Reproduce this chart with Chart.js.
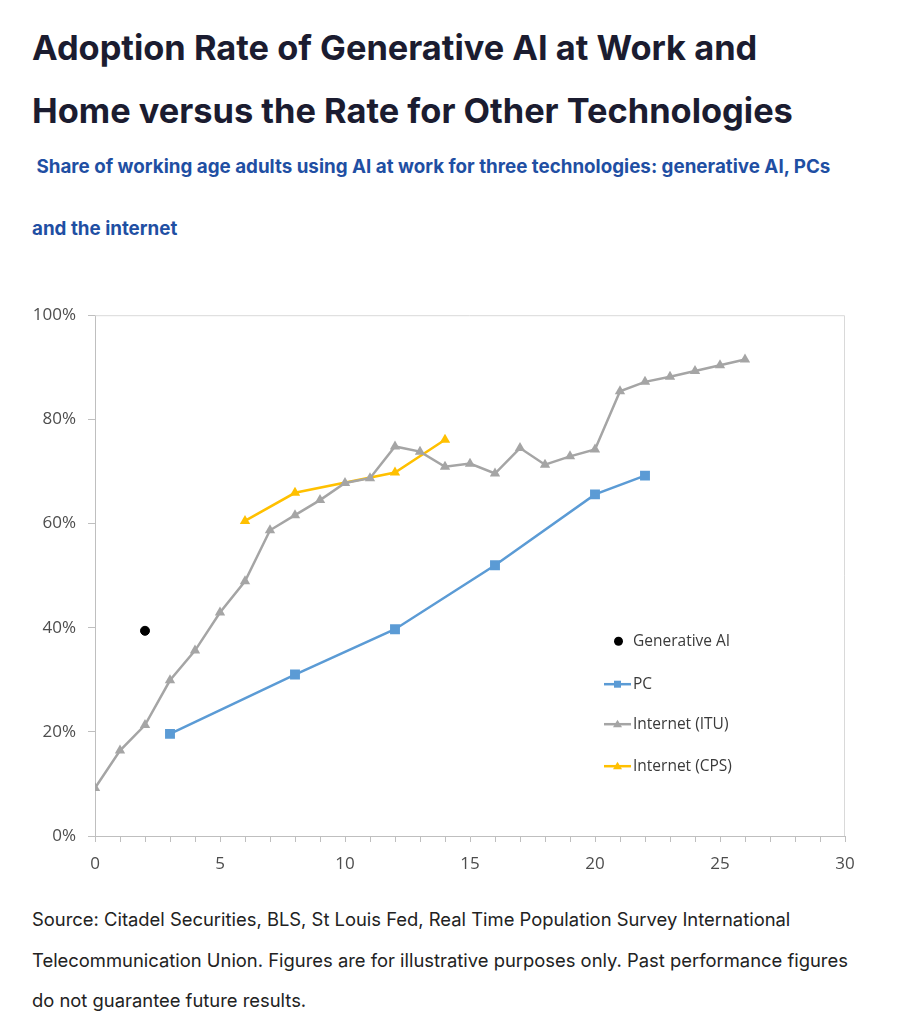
<!DOCTYPE html>
<html>
<head>
<meta charset="utf-8">
<script src="https://cdn.jsdelivr.net/npm/chart.js@4.4.1/dist/chart.umd.min.js"></script>
<style>
  html, body { margin: 0; padding: 0; background: #fff; }
  body { width: 898px; height: 1026px; position: relative; overflow: hidden; font-family: Inter, "Noto Sans", sans-serif; }
  #title { position: absolute; left: 32px; top: 16px; margin: 0; font-size: 34.4px; font-weight: 700; line-height: 63px; color: #1b1c30; white-space: nowrap; }
  #subtitle { position: absolute; left: 32px; top: 136px; margin: 0; font-size: 18.8px; font-weight: 700; line-height: 62px; color: #1f4fa3; white-space: pre; }
  #source { position: absolute; left: 32px; top: 899px; margin: 0; font-size: 18.4px; font-weight: 400; line-height: 40.5px; color: #222; width: 835px; }
  #wrap { position: absolute; left: 0; top: 293px; width: 870px; height: 597px; }
</style>
</head>
<body>
<h1 id="title">Adoption Rate of Generative AI at Work and<br>Home versus the Rate for Other Technologies</h1>
<p id="subtitle"> Share of working age adults using AI at work for three technologies: generative AI, PCs<br>and the internet</p>
<div id="wrap"><canvas id="myChart"></canvas></div>
<p id="source">Source: Citadel Securities, BLS, St Louis Fed, Real Time Population Survey International Telecommunication Union. Figures are for illustrative purposes only. Past performance figures do not guarantee future results.</p>
<script>
// years since introduction
var genAiX = [2];
var genAiY = [39.4];

var pcX = [3, 8, 12, 16, 20, 22];
var pcY = [19.6, 31.0, 39.7, 52.0, 65.6, 69.2];

var ituX = [0,1,2,3,4,5,6,7,8,9,10,11,12,13,14,15,16,17,18,19,20,21,22,23,24,25,26];
var ituY = [9.2,16.4,21.3,29.9,35.6,42.9,48.9,58.7,61.6,64.5,67.8,68.7,74.8,73.8,70.9,71.5,69.6,74.5,71.3,72.9,74.2,85.4,87.2,88.2,89.3,90.4,91.5];

var cpsX = [6, 8, 12, 14];
var cpsY = [60.5, 65.9, 69.8, 76.1];

var seriesNames = ['Generative AI', 'PC', 'Internet (ITU)', 'Internet (CPS)'];
var xTicks = [0, 5, 10, 15, 20, 25, 30];
var yTicks = [0, 20, 40, 60, 80, 100];

function pts(xs, ys) {
  return xs.map(function (x, i) { return { x: x, y: ys[i] }; });
}

var fontFam = "'Open Sans', 'Noto Sans', sans-serif";
var tickColor = '#4d4d4d';

// frame around plot area + legend inside it
var boxAndLegend = {
  id: 'boxAndLegend',
  beforeDatasetsDraw: function (chart) {
    var a = chart.chartArea, ctx = chart.ctx;
    ctx.save();
    ctx.strokeStyle = '#d9d9d9';
    ctx.lineWidth = 1;
    ctx.beginPath();
    ctx.moveTo(a.left, a.top + 0.5);
    ctx.lineTo(a.right - 0.5, a.top + 0.5);
    ctx.lineTo(a.right - 0.5, a.bottom);
    ctx.stroke();
    ctx.restore();
  },
  afterDraw: function (chart) {
    var a = chart.chartArea, ctx = chart.ctx;
    var x0 = a.left + 509, x1 = a.left + 536, tx = a.left + 538;
    var rows = [a.top + 326, a.top + 369, a.top + 409, a.top + 451];
    ctx.save();
    ctx.font = "15.5px " + fontFam;
    ctx.textBaseline = 'middle';
    chart.data.datasets.forEach(function (ds, i) {
      var y = rows[i], mx = (x0 + x1) / 2;
      if (ds.showLine !== false) {
        ctx.strokeStyle = ds.borderColor;
        ctx.lineWidth = 2.5;
        ctx.beginPath();
        ctx.moveTo(x0, y);
        ctx.lineTo(x1, y);
        ctx.stroke();
      }
      ctx.fillStyle = ds.pointBackgroundColor;
      ctx.beginPath();
      if (ds.pointStyle === 'circle') {
        ctx.arc(mx + 1, y, 4.5, 0, Math.PI * 2);
      } else if (ds.pointStyle === 'rect') {
        ctx.rect(mx - 3.5, y - 3.5, 7, 7);
      } else {
        ctx.moveTo(mx, y - 4.5);
        ctx.lineTo(mx + 4.5, y + 3);
        ctx.lineTo(mx - 4.5, y + 3);
        ctx.closePath();
      }
      ctx.fill();
      ctx.fillStyle = '#3a3a3a';
      ctx.fillText(ds.label, tx, y);
    });
    ctx.restore();
  }
};

new Chart('myChart', {
  type: 'scatter',
  data: {
    datasets: [
      {
        label: seriesNames[0],
        data: pts(genAiX, genAiY),
        showLine: false,
        pointStyle: 'circle',
        pointRadius: 4.5,
        pointBackgroundColor: '#000000',
        pointBorderColor: '#000000',
        borderColor: '#000000'
      },
      {
        label: seriesNames[1],
        data: pts(pcX, pcY),
        showLine: true,
        borderColor: '#5b9bd5',
        borderWidth: 2.5,
        pointStyle: 'rect',
        pointRadius: 7,
        pointBackgroundColor: '#5b9bd5',
        pointBorderColor: '#5b9bd5',
        pointBorderWidth: 0
      },
      {
        label: seriesNames[2],
        data: pts(ituX, ituY),
        showLine: true,
        borderColor: '#a5a5a5',
        borderWidth: 2.5,
        pointStyle: 'triangle',
        pointRadius: 6,
        pointBackgroundColor: '#a5a5a5',
        pointBorderColor: '#a5a5a5',
        pointBorderWidth: 0
      },
      {
        label: seriesNames[3],
        data: pts(cpsX, cpsY),
        showLine: true,
        borderColor: '#ffc000',
        borderWidth: 2.5,
        pointStyle: 'triangle',
        pointRadius: 6,
        pointBackgroundColor: '#ffc000',
        pointBorderColor: '#ffc000',
        pointBorderWidth: 0
      }
    ]
  },
  options: {
    responsive: true,
    maintainAspectRatio: false,
    animation: false,
    layout: { padding: { top: 7, right: 25, left: 0, bottom: 0 } },
    plugins: {
      legend: { display: false },
      tooltip: { enabled: false }
    },
    scales: {
      x: {
        type: 'linear',
        min: 0,
        max: 30,
        afterFit: function (s) { s.height = 54; },
        afterBuildTicks: function (s) {
          var t = [];
          for (var v = 0; v <= 30; v++) t.push({ value: v });
          s.ticks = t;
        },
        border: { color: '#bfbfbf', width: 1 },
        grid: { drawOnChartArea: false, drawTicks: true, tickLength: 6, color: '#bfbfbf' },
        ticks: {
          color: tickColor,
          font: { family: fontFam, size: 17 },
          padding: 12,
          maxRotation: 0,
          autoSkip: false,
          callback: function (v) { return xTicks.indexOf(v) >= 0 ? String(v) : ''; }
        }
      },
      y: {
        min: 0,
        max: 100,
        afterFit: function (s) { s.width = 95; },
        afterBuildTicks: function (s) {
          s.ticks = yTicks.map(function (v) { return { value: v }; });
        },
        border: { color: '#bfbfbf', width: 1 },
        grid: { drawOnChartArea: false, drawTicks: true, tickLength: 7, color: '#bfbfbf' },
        ticks: {
          color: tickColor,
          font: { family: fontFam, size: 17 },
          padding: 12,
          callback: function (v) { return v + '%'; }
        }
      }
    }
  },
  plugins: [boxAndLegend]
});
</script>
</body>
</html>
